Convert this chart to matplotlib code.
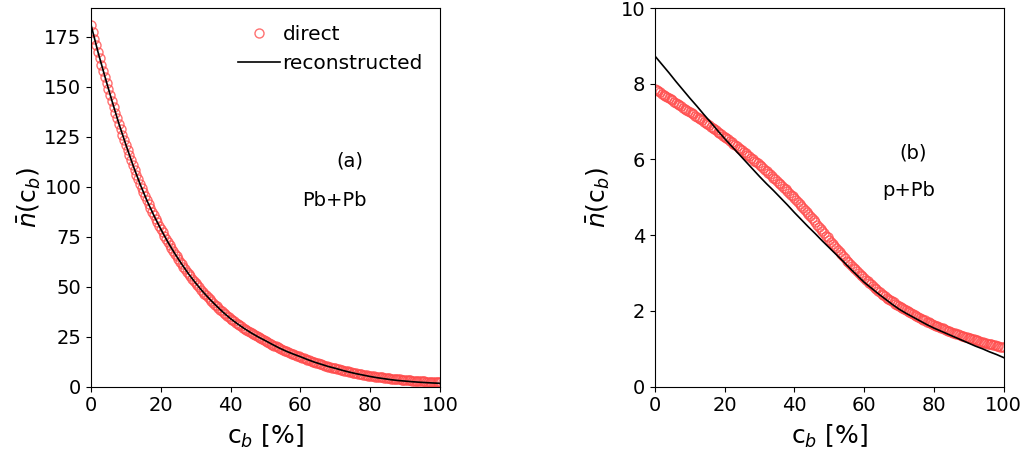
import numpy as np
import matplotlib
matplotlib.use("Agg")
import matplotlib.pyplot as plt

# centrality grid of the direct points (0.5 % steps) and of the reconstructed curves (2 % steps)
cb_direct = np.linspace(0, 100, 201)
cb_recon = np.linspace(0, 100, 51)

# Panel (a): Pb+Pb
pbpb_direct = [
    181.0, 177.5, 174.1, 170.7, 167.4, 164.2, 161.1, 158.0, 154.9, 151.9,
    149.0, 145.9, 142.9, 140.0, 137.1, 134.3, 131.5, 128.8, 126.1, 123.5,
    121.0, 118.4, 115.8, 113.3, 110.9, 108.5, 106.1, 103.8, 101.6, 99.4,
    97.2, 95.2, 93.2, 91.3, 89.4, 87.5, 85.7, 83.9, 82.2, 80.5,
    78.8, 77.2, 75.6, 74.0, 72.4, 70.9, 69.5, 68.0, 66.6, 65.2,
    63.9, 62.6, 61.3, 60.0, 58.8, 57.5, 56.3, 55.2, 54.0, 52.9,
    51.8, 50.7, 49.7, 48.6, 47.6, 46.6, 45.7, 44.7, 43.8, 42.9,
    42.0, 41.1, 40.3, 39.4, 38.6, 37.8, 37.0, 36.3, 35.5, 34.8,
    34.0, 33.3, 32.7, 32.1, 31.4, 30.8, 30.2, 29.6, 29.0, 28.5,
    27.9, 27.4, 26.8, 26.3, 25.8, 25.3, 24.8, 24.3, 23.9, 23.4,
    23.0, 22.5, 22.0, 21.6, 21.1, 20.6, 20.2, 19.8, 19.3, 18.9,
    18.5, 18.1, 17.7, 17.4, 17.0, 16.6, 16.3, 16.0, 15.6, 15.3,
    15.0, 14.6, 14.3, 13.9, 13.6, 13.3, 12.9, 12.6, 12.3, 12.0,
    11.7, 11.4, 11.2, 10.9, 10.6, 10.4, 10.1, 9.9, 9.6, 9.4,
    9.2, 8.96, 8.72, 8.49, 8.27, 8.05, 7.84, 7.64, 7.44, 7.24,
    7.05, 6.87, 6.70, 6.53, 6.36, 6.20, 6.04, 5.89, 5.74, 5.59,
    5.45, 5.32, 5.20, 5.08, 4.96, 4.84, 4.73, 4.62, 4.51, 4.40,
    4.30, 4.20, 4.10, 4.00, 3.90, 3.81, 3.72, 3.63, 3.54, 3.45,
    3.37, 3.29, 3.21, 3.14, 3.07, 3.00, 2.94, 2.88, 2.82, 2.76,
    2.70, 2.65, 2.60, 2.55, 2.50, 2.46, 2.42, 2.38, 2.34, 2.31, 2.28,
]
pbpb_recon = [
    181.0, 167.4, 155.0, 143.0, 131.5, 121.0, 110.9, 101.6, 93.2, 85.7,
    78.8, 72.4, 66.6, 61.3, 56.3, 51.8, 47.6, 43.8, 40.3, 37.0,
    34.0, 31.4, 29.0, 26.8, 24.8, 23.0, 21.1, 19.3, 17.7, 16.3,
    15.0, 13.6, 12.3, 11.2, 10.1, 9.2, 8.2, 7.3, 6.5, 5.8,
    5.1, 4.5, 4.0, 3.5, 3.1, 2.8, 2.5, 2.25, 2.05, 1.85, 1.7,
]

# Panel (b): p+Pb
ppb_direct = [
    7.86, 7.83, 7.80, 7.77, 7.74, 7.71, 7.68, 7.65, 7.62, 7.59,
    7.56, 7.53, 7.50, 7.47, 7.44, 7.41, 7.37, 7.34, 7.31, 7.28,
    7.25, 7.22, 7.19, 7.15, 7.12, 7.09, 7.06, 7.03, 6.99, 6.96,
    6.93, 6.90, 6.86, 6.83, 6.80, 6.77, 6.73, 6.70, 6.67, 6.63,
    6.60, 6.56, 6.53, 6.49, 6.46, 6.42, 6.38, 6.35, 6.31, 6.28,
    6.24, 6.20, 6.16, 6.13, 6.09, 6.05, 6.01, 5.97, 5.94, 5.90,
    5.86, 5.82, 5.78, 5.73, 5.69, 5.65, 5.61, 5.57, 5.52, 5.48,
    5.44, 5.39, 5.35, 5.30, 5.26, 5.21, 5.16, 5.12, 5.07, 5.03,
    4.98, 4.93, 4.87, 4.82, 4.77, 4.72, 4.66, 4.61, 4.56, 4.50,
    4.45, 4.39, 4.34, 4.28, 4.22, 4.17, 4.11, 4.05, 3.99, 3.94,
    3.88, 3.83, 3.77, 3.72, 3.66, 3.61, 3.55, 3.50, 3.44, 3.39,
    3.33, 3.28, 3.24, 3.19, 3.14, 3.10, 3.05, 3.00, 2.95, 2.91,
    2.86, 2.82, 2.78, 2.74, 2.70, 2.66, 2.61, 2.57, 2.53, 2.49,
    2.45, 2.42, 2.39, 2.35, 2.32, 2.29, 2.26, 2.23, 2.19, 2.16,
    2.13, 2.10, 2.08, 2.05, 2.02, 2.00, 1.97, 1.94, 1.91, 1.89,
    1.86, 1.84, 1.81, 1.79, 1.77, 1.75, 1.72, 1.70, 1.68, 1.65,
    1.63, 1.61, 1.59, 1.57, 1.55, 1.54, 1.52, 1.50, 1.48, 1.46,
    1.44, 1.43, 1.41, 1.40, 1.38, 1.37, 1.35, 1.34, 1.32, 1.31,
    1.29, 1.28, 1.26, 1.25, 1.23, 1.22, 1.21, 1.19, 1.18, 1.16,
    1.15, 1.14, 1.13, 1.12, 1.11, 1.10, 1.08, 1.07, 1.06, 1.05, 1.04,
]
ppb_recon = [
    8.73, 8.51, 8.29, 8.06, 7.84, 7.62, 7.41, 7.19, 6.98, 6.76,
    6.55, 6.35, 6.15, 5.95, 5.75, 5.55, 5.36, 5.18, 4.99, 4.80,
    4.60, 4.41, 4.22, 4.04, 3.85, 3.67, 3.49, 3.31, 3.12, 2.94,
    2.76, 2.61, 2.46, 2.32, 2.18, 2.05, 1.94, 1.84, 1.74, 1.64,
    1.55, 1.47, 1.39, 1.31, 1.23, 1.15, 1.07, 1.00, 0.92, 0.85, 0.77,
]

xticks = [0, 20, 40, 60, 80, 100]
yticks_a = [0, 25, 50, 75, 100, 125, 150, 175]
yticks_b = [0, 2, 4, 6, 8, 10]

fig = plt.figure(figsize=(10.26, 4.51), dpi=100)
ax_a = fig.add_axes([91 / 1026, 1 - 386.7 / 451, 349 / 1026, 378.7 / 451])
ax_b = fig.add_axes([655 / 1026, 1 - 386.7 / 451, 348.5 / 1026, 378.7 / 451])

marker_kw = dict(linestyle="none", marker="o", markersize=6.5, markerfacecolor="none",
                 markeredgecolor="#ff4d4d", markeredgewidth=1.0, alpha=0.8)

for ax, direct, recon, ylim, yt, lab1, lab2, pos1, pos2, ypad in [
    (ax_a, pbpb_direct, pbpb_recon, (0, 189.4), yticks_a, "(a)", "Pb+Pb", (74.2, 113), (69.6, 93), 1.0),
    (ax_b, ppb_direct, ppb_recon, (0, 10), yticks_b, "(b)", "p+Pb", (74.0, 6.17), (72.9, 5.19), 6.0),
]:
    ax.plot(cb_direct, direct, label="direct", **marker_kw)
    ax.plot(cb_recon, recon, color="black", linewidth=1.2, label="reconstructed")
    ax.set_xlim(0, 100)
    ax.set_ylim(*ylim)
    ax.set_xticks(xticks)
    ax.set_yticks(yt)
    ax.tick_params(labelsize=14)
    ax.set_xlabel(r"c$_b$ [%]", fontsize=18, labelpad=5)
    ax.set_ylabel(r"$\bar{n}$(c$_b$)", fontsize=18, labelpad=ypad)
    ax.text(pos1[0], pos1[1], lab1, fontsize=14, ha="center", va="center")
    ax.text(pos2[0], pos2[1], lab2, fontsize=14, ha="center", va="center")

ax_a.legend(loc="upper right", frameon=False, fontsize=14.5, numpoints=1,
            handlelength=2.1, borderaxespad=0.45, handletextpad=0.1, labelspacing=0.5)

fig.savefig("out.png", dpi=100)
